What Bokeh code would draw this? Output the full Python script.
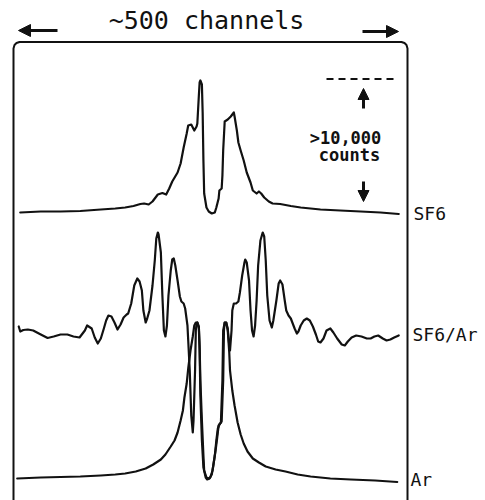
from bokeh.plotting import figure
from bokeh.models import Range1d, Arrow, NormalHead
from bokeh.core.properties import value
from bokeh.embed import file_html
from bokeh.resources import INLINE
import numpy as np

# ---------------- data (channel, relative counts above each trace's baseline) -------------
sf6_channel = [1, 28, 54, 80, 107, 126, 139, 150, 159, 164, 170, 175, 182, 188, 193, 197, 201, 208,
               212, 216, 220, 222, 226, 230, 233, 234, 236, 237, 238, 240, 241, 242, 243, 246, 249,
               253, 257, 259, 262, 263, 266, 267, 268, 270, 274, 278, 280, 282, 283, 286, 288, 291,
               295, 299, 304, 307, 312, 315, 318, 322, 328, 333, 343, 357, 370, 396, 422, 449, 475, 499]
sf6_counts = [0, 1, 1, 1.5, 3, 4, 5, 6.5, 8.5, 9, 8, 11, 18, 19.5, 18, 24, 31, 40,
              49, 65, 79, 87, 88, 82, 86, 89, 117, 130, 132, 128, 100, 52, 19, 5, 1,
              -1, 0, 5, 14, 22, 24, 37, 62, 91, 93, 96, 98, 100, 96, 82, 70, 62,
              52, 40, 30, 22, 19, 21, 19, 15, 11, 9, 8.5, 6.5, 5, 3, 2, 1, 0, -1.5]

mix_channel = [-1, 1, 5, 11, 18, 28, 37, 45, 54, 63, 71, 79, 86, 89, 95, 99, 103, 107, 111, 114,
               117, 121, 125, 129, 133, 137, 141, 143, 147, 151, 155, 158, 161, 163, 166, 168, 171,
               175, 178, 180, 182, 183, 186, 188, 190, 192, 194, 196, 199, 201, 203, 205, 208, 211,
               213, 216, 218, 221, 224, 226, 228, 229, 231, 232, 233, 234, 236, 237, 238, 240, 242,
               243, 246, 249, 251, 254, 257, 259, 261, 263, 265, 267, 268, 270, 272, 274, 276, 277,
               279, 280, 282, 285, 288, 290, 293, 296, 297, 299, 302, 304, 306, 308, 310, 312, 314,
               317, 320, 322, 324, 326, 329, 332, 334, 338, 341, 343, 346, 349, 351, 354, 357, 359,
               362, 365, 367, 370, 374, 378, 382, 386, 390, 393, 396, 400, 404, 409, 413, 418, 424,
               428, 432, 437, 443, 450, 457, 462, 467, 472, 478, 483, 488, 493, 499]
mix_counts = [7, 2, 3.5, 4, 3, -1, -4.5, -3, -1, -1, -3, -4, 3, 8, 5, -4, -10, -5, 5, 13,
              18, 17, 11, 4, 9, 16, 19, 20, 30, 48, 55, 52, 43, 23, 11, 15, 23,
              48, 73, 95, 101, 99, 81, 38, 3, -3, 8, 38, 63, 74, 75, 68, 53, 37,
              32, 30, 25, 8, -37, -82, -99, -87, -37, 3, 10, 11, 7, -12, -47, -87, -122,
              -137, -144, -145, -144, -137, -122, -107, -95, -91, -89, -47, 3, 11, 11, 5, -12, -17,
              3, 23, 30, 30, 32, 41, 58, 71, 74, 71, 53, 23, 3, -3, 8, 33, 68,
              93, 101, 97, 73, 38, 13, 6, 13, 33, 50, 53, 49, 33, 23, 18, 15, 11,
              5, 0, 2, 8, 13, 15, 13, 7, -1, -8, -9, -5, 3, 5, 1, -5, -11,
              -12, -8, -4, -2, -3, -5, -5, -3, -2, -5, -7, -6, -4, -2]

ar_channel = [-3, 28, 54, 80, 107, 126, 139, 153, 166, 176, 186, 192, 199, 204, 208, 212, 215, 217,
              220, 222, 225, 228, 230, 232, 234, 236, 237, 238, 240, 242, 245, 247, 250, 253, 255,
              258, 260, 262, 264, 266, 268, 269, 270, 272, 274, 276, 277, 280, 283, 287, 291, 295,
              300, 307, 315, 324, 337, 350, 366, 383, 409, 436, 468, 497]
ar_counts = [0, 1, 1.5, 2, 3, 4, 5, 7, 10, 14, 19, 24, 32, 38, 46, 58, 68, 81,
             95, 110, 128, 142, 153, 156, 156, 150, 128, 83, 38, 11, 1, -1, 0, 4, 13,
             28, 40, 53, 55, 57, 98, 148, 156, 156, 148, 126, 108, 88, 73, 56, 44, 35,
             27, 20, 16, 12, 9, 7, 4, 2, 0, -1, -2, -3.5]

trace_names = ["SF6", "SF6/Ar", "Ar"]
trace_offsets = [288, 167, 22]   # vertical stacking of the three spectra

header_text = "~500 channels"
scale_text = [">10,000", "counts"]

# ---------------- figure ----------------
W, H = 485, 500
X0, X1 = -25.0, 613.16


def px(xp):  # helper for decorations: window pixel -> channel units
    return X0 + xp / W * (X1 - X0)


def py(yp):  # window pixel (from top) -> vertical units
    return H - yp


p = figure(width=W, height=H, output_backend="svg", toolbar_location=None,
           x_range=Range1d(X0, X1), y_range=Range1d(0, H),
           min_border=0, min_border_left=0, min_border_right=0,
           min_border_top=0, min_border_bottom=0)
p.axis.visible = False
p.grid.visible = False
p.outline_line_color = None
p.background_fill_color = "white"
p.border_fill_color = "white"

INK = "#111111"

for ch, ct, off in zip([sf6_channel, mix_channel, ar_channel],
                       [sf6_counts, mix_counts, ar_counts], trace_offsets):
    p.line(np.array(ch), np.array(ct) + off, line_color=INK, line_width=2.2,
           line_join="round", line_cap="round")

# frame (open at the bottom, rounded top corners)
fx = [px(13), px(13), px(14), px(16), px(19), px(401), px(404), px(406), px(407), px(407)]
fy = [py(505), py(48), py(44.5), py(42.5), py(41.5), py(41.5), py(42.5), py(44.5), py(48), py(505)]
p.line(fx, fy, line_color=INK, line_width=2)

# header
p.text(x=[px(206)], y=[py(20)], text=[header_text], text_align="center", text_baseline="middle",
       text_font=value("DejaVu Sans Mono"), text_font_size="25px", text_color=INK)
p.add_layout(Arrow(end=NormalHead(size=12, fill_color=INK, line_color=INK),
                   x_start=px(57), y_start=py(30), x_end=px(18), y_end=py(30),
                   line_width=3, line_color=INK))
p.add_layout(Arrow(end=NormalHead(size=12, fill_color=INK, line_color=INK),
                   x_start=px(362), y_start=py(31), x_end=px(398), y_end=py(31),
                   line_width=3, line_color=INK))

# trace labels
label_x = [px(413), px(412), px(410)]
p.text(x=label_x, y=[o - 1 for o in trace_offsets], text=trace_names,
       text_align="left", text_baseline="middle",
       text_font=value("DejaVu Sans Mono"), text_font_size="18px", text_color=INK)

# scale bar
p.line([px(326), px(398)], [py(78.5), py(78.5)], line_color=INK, line_width=1.8, line_dash="7 5")
p.add_layout(Arrow(end=NormalHead(size=11, fill_color=INK, line_color=INK),
                   x_start=px(363), y_start=py(108), x_end=px(363), y_end=py(88),
                   line_width=3, line_color=INK))
p.add_layout(Arrow(end=NormalHead(size=11, fill_color=INK, line_color=INK),
                   x_start=px(363), y_start=py(181), x_end=px(363), y_end=py(201),
                   line_width=3, line_color=INK))
p.text(x=[px(345), px(349)], y=[py(137), py(154)], text=scale_text,
       text_align="center", text_baseline="middle",
       text_font=value("DejaVu Sans Mono"), text_font_size="17px", text_font_style="bold",
       text_color=INK)

open("out.html", "w").write(file_html(p, INLINE))
